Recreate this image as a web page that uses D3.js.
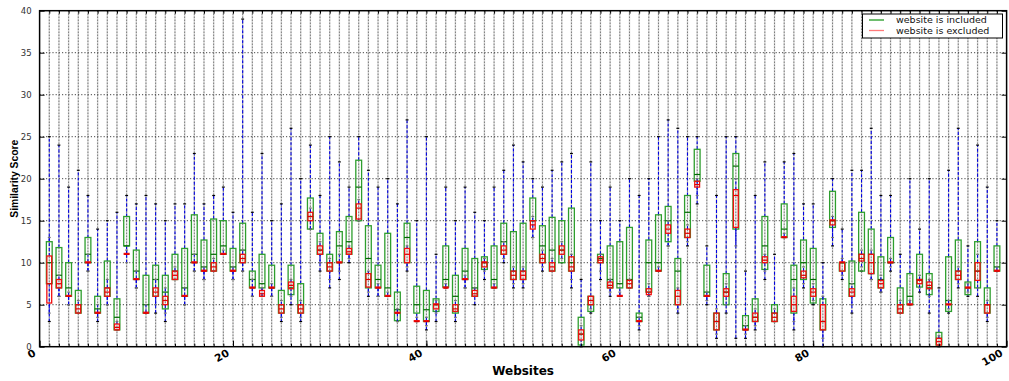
<!DOCTYPE html>
<html>
<head>
<meta charset="utf-8">
<script src="https://cdn.jsdelivr.net/npm/d3@7"></script>
<style>
  html, body { margin: 0; padding: 0; background: #fff; }
  svg { display: block; }
</style>
</head>
<body>
<svg id="chart" width="1009" height="381"></svg>
<script>
// Per-website similarity score summaries: [whisker low, Q1, median, Q3, whisker high]
const includedStats = [
  [3,7.5,10,12.5,25],[6,7,8.5,11.8,24],[5,6,7,10,19],[4,4,5,6.7,21],[9,10,11,13,18],
  [3,4,4.5,6,14],[5,6,7,10.2,15],[2,2,3.5,5.7,16],[11,12,12,15.5,18],[7,8,9,11.5,17],
  [4,4,5,8.5,18],[4,6,8,9.7,17],[3,4.5,6.5,8.5,15],[8,8,9,11,17],[5,6,7,11.7,17],
  [9,10,11,15.7,23],[8,9,9.5,12.7,17],[9,9,11,15.2,18],[11,11,12,15,19],[8,9,9.5,11.7,16],
  [9,10,11.5,14.7,39],[6,7,8,9,16],[6,7,7.5,11,23],[6,7,7,9.7,15],[3,4,5,6.7,17],
  [5,6.2,7,9.7,26],[3,4,5,7.5,20],[14,14,15.5,17.7,24],[9,11,11.5,13.5,18],[7,9,10,11,25],
  [8,10,12,13.7,22],[10,11,12.5,15.5,19],[15,15,19,22.2,25],[6,7,10.5,14.4,21],[6,7,8,9.7,19],
  [6,6,7,13.5,20],[3,3.1,4.4,6.5,17],[9,10,13,14.7,27],[3,4,5,7.2,15],[2,3,4.4,6.7,25],
  [3,4.2,5,5.7,11],[7,7.1,8,12,19],[3,4,6,8.5,15],[7,8,9,11.7,19],[5,6,7,10.5,16],
  [8,9.2,10,10.7,15],[7,7,8,12,19],[10,11,12.5,14.7,21],[7,8,9,13.7,24],[7,8,9,14.7,22],
  [13,15,15,17.7,20],[9,10,12,14.4,19],[9,9,11.5,15.4,21],[10,10,11.5,15,22],[7,9,10,16.5,23],
  [0,0.2,1.5,3.5,8],[4,4.2,5,6,22],[8,10,10.5,11,15],[6,7,8,12,19],[6,7,7.5,12.5,15],
  [7,7,8,14.2,20],[2,3,3.5,4,18],[6,6.5,10,12.7,20],[9,9,10,15.7,25],[12,12.5,15,16.7,27],
  [4,5,9,10.5,26],[12,13,16,18,25],[17,19.7,20.5,23.5,25],[5,6,6.5,9.7,12],[1,2,3,4,18],
  [4,5,6.5,8.7,25],[1,14,21.5,23,25],[1,2,2.5,3.7,9],[2,3,3.5,5.7,18],[8,9.2,12,15.5,22],
  [3,3,4,5,11],[13,13,14,17,22],[2,4,8,9.7,23],[7,8,10,12.7,17],[5,5.2,8,11.7,17],
  [0,2,3,5.7,10],[12,14.2,15,18.5,20],[8,9,10,10,14],[4,6,7.5,10.2,21],[9,9,11,16,21],
  [8,8.7,11,14,26],[6.5,7,8,10.7,18],[9,10,10,13,18],[4,4,5,7,11],[5,5,6,8.7,20],
  [6.5,7.1,8,11,14],[4,6.2,7,8.7,20],[0,0.2,1,1.7,7],[4,4.2,5.5,10.7,21],[7,8,9,12.7,26],
  [6,6.2,7,7.7,12],[6,7,9,12.5,24],[3,4,5,7,19],[9,9,9.5,12,15]
];

const excludedStats = [
  [4,5.2,7.5,10.8,13],[6,7,7.5,8,8.5],[5,6,6,6.1,6.5],[4,4,4.5,5,5.5],[9,10,10,10.1,11],
  [3.5,4,4,4.1,5],[5,6,6.5,7,8],[2,2,2.3,2.7,3],[10,11,11,11.1,11.5],[7,8,8,8.1,9],
  [4,4,4,4.1,5],[5,6,6.5,7,8],[4,5,5.5,6,7],[8,8,8.5,9,9.5],[5,6,6,6.1,7],
  [9,10,10,10.1,11],[8,9,9,9.1,9.5],[9,9,9.5,10,10.5],[11,11,11,11.1,11.5],[8,9,9,9.1,9.5],
  [9,10,10.5,11,11.5],[6,7,7,7.1,8],[6,6,6.3,6.7,7],[6,7,7,7.1,7.5],[3.5,4,4.5,5,5.5],
  [6,6.9,7.3,7.7,8],[3.5,4,4.5,5,5.5],[14,15,15.5,16,16.5],[10,11,11.5,12,12.5],[8,9,9.5,10,10.5],
  [9,10,10,10.1,11],[10.5,11,11.3,11.7,12],[15,15.2,16.5,17,17.5],[6.5,7.1,8,8.7,9],[6,7,7,7.1,7.5],
  [6,6,6,6.1,6.5],[3,4,4,4.1,4.5],[9.5,10,11,11.7,12],[3,3,3,3.1,3.5],[2.5,3,3,3.1,3.5],
  [4,4.5,5,5.1,5.5],[7,7,7,7.1,7.5],[3.5,4.2,4.5,5,5.5],[7,8,8,8.1,8.5],[6,6,6.3,6.7,7],
  [9,9.5,10,10.1,10.5],[7,7,7,7.1,7.5],[10.5,11,11.5,12,12.5],[7.5,8,8.5,9,9.5],[7.5,8,8.5,9,9.5],
  [13,14,14.5,15,15.5],[9.5,10,10.5,11,11.5],[9,9,9.5,10,10.5],[10.5,11,11.5,12,12.5],[8,9,9.5,10.7,11],
  [0,0.8,1.5,2,2.5],[4.5,5,5.5,6,6],[9,10,10.3,10.7,11],[6.5,7,7.3,7.7,8],[6,6,6,6.1,6.5],
  [7,7,7.5,7.9,8],[2.5,3,3,3.1,3.5],[6,6.2,6.5,6.9,7.5],[9,9,9,9.1,9.5],[12,13.5,14,14.5,15],
  [4.5,5,6,6.7,7],[12.5,13,13.5,14,14.5],[18,19,19.3,19.7,20],[5.5,6,6,6.1,6.5],[1.5,2,3,4,4.5],
  [5,6,6.5,6.9,7.5],[12,14.2,18,18.7,20],[1.5,2,2,2.1,2.5],[2.5,3,3.5,4,4.5],[9,10,10.3,10.7,11],
  [3,3,3.5,4,4.5],[13,13,13,13.1,13.5],[3,4.2,5,6,7],[7.5,8.2,8.5,9,9.5],[5.5,6,6.5,6.9,7.5],
  [1,2,3,5,6],[13,14.5,15,15.1,15.5],[8.5,9,10,10.1,10.5],[5,6,6.5,6.9,7.5],[9.5,10.2,10.5,11,11.5],
  [8,8.7,10,11,11.5],[6.5,7,7.5,7.9,8.5],[9.5,10,10,10.1,10.5],[4,4,4.5,5,5.5],[5,5,5,5.1,5.5],
  [7,7.5,7.9,8,8.5],[6,6.9,7.3,7.7,8],[0,0.2,0.6,1,1.3],[4.5,5,5,5.1,5.5],[7.5,8,8.5,9,9.5],
  [6.5,7,7,7.1,7.5],[7,7.9,9,10,11],[3.5,4,5,5,5.5],[9,9,9,9.1,9.5]
];

const xTickValues = [0, 20, 40, 60, 80, 100];
const yTickValues = [0, 5, 10, 15, 20, 25, 30, 35, 40];
const seriesNames = ["website is included", "website is excluded"];

const svg = d3.select("#chart");
const plotLeft = 39.6, plotRight = 1006.6, plotTop = 10.7, plotBottom = 346.7;
const x = d3.scaleLinear().domain([0, 100]).range([plotLeft, plotRight]);
const y = d3.scaleLinear().domain([0, 40]).range([plotBottom, plotTop]);
const positions = includedStats.map((d, i) => i + 1);

// grid
const grid = svg.append("g");
grid.selectAll("line.vg").data(positions).join("line")
  .attr("x1", d => x(d)).attr("x2", d => x(d)).attr("y1", plotTop).attr("y2", plotBottom)
  .attr("stroke", "#d4d4d4").attr("stroke-width", 1.4);
grid.selectAll("line.vd").data(positions).join("line")
  .attr("x1", d => x(d)).attr("x2", d => x(d)).attr("y1", plotTop).attr("y2", plotBottom)
  .attr("stroke", "#333").attr("stroke-width", 0.8).attr("stroke-dasharray", "1,2");
grid.selectAll("line.hg").data(yTickValues.slice(1, -1)).join("line")
  .attr("x1", plotLeft).attr("x2", plotRight).attr("y1", d => y(d)).attr("y2", d => y(d))
  .attr("stroke", "#444").attr("stroke-width", 1).attr("stroke-dasharray", "1.2,2");

// one boxplot series
function drawSeries(stats, opt) {
  const g = svg.append("g");
  const items = stats.map((s, i) => ({ pos: i + 1, s }));
  const hw = opt.width / 2, cw = opt.capWidth / 2;
  // whiskers
  g.selectAll("line.wl").data(items).join("line")
    .attr("x1", d => x(d.pos)).attr("x2", d => x(d.pos))
    .attr("y1", d => y(d.s[0])).attr("y2", d => y(d.s[1]))
    .attr("stroke", "#0000e6").attr("stroke-width", 1.1).attr("stroke-dasharray", "3,2");
  g.selectAll("line.wh").data(items).join("line")
    .attr("x1", d => x(d.pos)).attr("x2", d => x(d.pos))
    .attr("y1", d => y(d.s[3])).attr("y2", d => y(d.s[4]))
    .attr("stroke", "#0000e6").attr("stroke-width", 1.1).attr("stroke-dasharray", "3,2");
  // caps
  [0, 4].forEach(k => {
    g.selectAll("line.cap" + k).data(items).join("line")
      .attr("x1", d => x(d.pos - cw)).attr("x2", d => x(d.pos + cw))
      .attr("y1", d => y(d.s[k])).attr("y2", d => y(d.s[k]))
      .attr("stroke", opt.capColor).attr("stroke-width", 1.2);
  });
  // boxes
  g.selectAll("rect").data(items).join("rect")
    .attr("x", d => x(d.pos - hw)).attr("width", x(opt.width) - x(0))
    .attr("y", d => y(d.s[3])).attr("height", d => Math.max(0.5, y(d.s[1]) - y(d.s[3])))
    .attr("fill", "none").attr("stroke", opt.boxColor).attr("stroke-width", opt.boxStroke);
  // medians
  g.selectAll("line.med").data(items).join("line")
    .attr("x1", d => x(d.pos - hw)).attr("x2", d => x(d.pos + hw))
    .attr("y1", d => y(d.s[2])).attr("y2", d => y(d.s[2]))
    .attr("stroke", opt.medColor).attr("stroke-width", 1.2);
}

drawSeries(includedStats, { width: 0.6, capWidth: 0.3, capColor: "#000", boxColor: "#2e9e2e", boxStroke: 1.3, medColor: "#006a00" });
drawSeries(excludedStats, { width: 0.5, capWidth: 0.3, capColor: "#777", boxColor: "#f01010", boxStroke: 1.3, medColor: "#e00000" });

// axes
const axes = svg.append("g");
axes.append("g").attr("transform", `translate(0,${plotBottom})`)
  .call(d3.axisBottom(x).tickValues(positions).tickSize(-3).tickFormat(""))
  .call(g => g.select(".domain").remove());
axes.append("g").attr("transform", `translate(0,${plotTop})`)
  .call(d3.axisTop(x).tickValues(positions).tickSize(-3).tickFormat(""))
  .call(g => g.select(".domain").remove());
axes.append("g").attr("transform", `translate(0,${plotBottom})`)
  .call(d3.axisBottom(x).tickValues(xTickValues).tickSize(-6).tickFormat(""))
  .call(g => g.select(".domain").remove());
axes.append("g").attr("transform", `translate(${plotLeft},0)`)
  .call(d3.axisLeft(y).tickValues(yTickValues).tickSize(-5).tickPadding(8))
  .call(g => g.select(".domain").remove())
  .call(g => g.selectAll("text").attr("font-family", "DejaVu Sans").attr("font-size", 8.5).attr("fill", "#333"));
axes.append("g").attr("transform", `translate(${plotRight},0)`)
  .call(d3.axisRight(y).tickValues(yTickValues).tickSize(-5).tickFormat(""))
  .call(g => g.select(".domain").remove());
axes.selectAll(".tick line").attr("stroke", "#000").attr("stroke-width", 1);

// frame
svg.append("rect").attr("x", plotLeft).attr("y", plotTop)
  .attr("width", plotRight - plotLeft).attr("height", plotBottom - plotTop)
  .attr("fill", "none").attr("stroke", "#000").attr("stroke-width", 1.5);

// rotated x tick labels, right end of each label just below its tick
svg.append("g").selectAll("text").data(xTickValues).join("text")
  .attr("transform", d => `translate(${x(d) - 3},${plotBottom + 8.5}) rotate(-30)`)
  .attr("text-anchor", "end")
  .attr("font-family", "DejaVu Sans").attr("font-weight", "bold").attr("font-size", 10.5)
  .text(d => d);

// axis titles
svg.append("text").attr("x", (plotLeft + plotRight) / 2).attr("y", 375)
  .attr("text-anchor", "middle").attr("font-family", "DejaVu Sans").attr("font-weight", "bold")
  .attr("font-size", 12).text("Websites");
svg.append("text").attr("transform", `translate(18,${(plotTop + plotBottom) / 2}) rotate(-90)`)
  .attr("text-anchor", "middle").attr("font-family", "Liberation Sans").attr("font-weight", "bold")
  .attr("font-size", 11).attr("textLength", 78).attr("lengthAdjust", "spacingAndGlyphs")
  .text("Similarity Score");

// legend
const lg = svg.append("g");
lg.append("rect").attr("x", 862.5).attr("y", 14).attr("width", 140).attr("height", 24)
  .attr("fill", "#fff").attr("stroke", "#000").attr("stroke-width", 1);
const legendColors = ["#1f9a1f", "#ff7a7a"];
seriesNames.forEach((name, i) => {
  const ly = 20 + i * 10.5;
  lg.append("line").attr("x1", 869).attr("x2", 884).attr("y1", ly).attr("y2", ly)
    .attr("stroke", legendColors[i]).attr("stroke-width", 1.3);
  lg.append("text").attr("x", 896).attr("y", ly).attr("dy", "0.35em")
    .attr("font-family", "DejaVu Sans").attr("font-size", 9.5).attr("fill", "#111")
    .text(name);
});
</script>
</body>
</html>
